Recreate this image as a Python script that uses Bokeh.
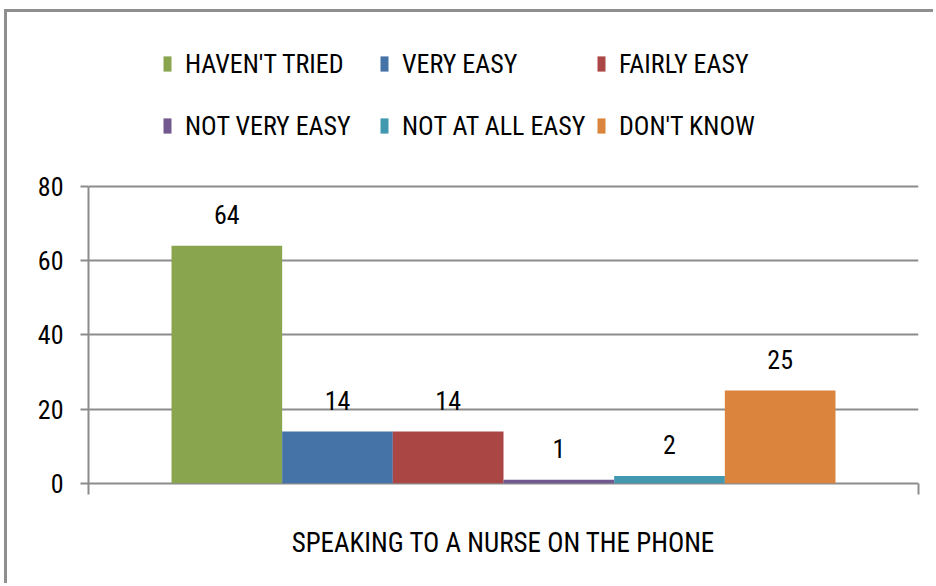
from bokeh.plotting import figure
from bokeh.models import (ColumnDataSource, FactorRange, Range1d, Legend, LegendItem,
                          FixedTicker, LinearAxis)
from bokeh.transform import dodge
from bokeh.core.properties import value
from bokeh.embed import file_html
from bokeh.resources import INLINE

category = ["SPEAKING TO A NURSE ON THE PHONE"]
series = ["HAVEN'T TRIED", "VERY EASY", "FAIRLY EASY",
          "NOT VERY EASY", "NOT AT ALL EASY", "DON'T KNOW"]
values = [64, 14, 14, 1, 2, 25]
colors = ["#89A54E", "#4572A7", "#AA4643", "#71588F", "#4198AF", "#DB843D"]
y_ticks = [0, 20, 40, 60, 80]

FONT = "Roboto Condensed, DejaVu Sans Condensed, Liberation Sans"
GRID = "#8c8c8c"
n = len(series)
bar_w = 1.0 / (n + 1.5)

# frame extends upward over the legend area and slightly below the baseline
p = figure(x_range=FactorRange(factors=category, range_padding=0),
           y_range=Range1d(-3, 126.83), width=929, height=574,
           output_backend="svg", toolbar_location=None,
           min_border_left=81, min_border_right=18,
           min_border_top=0, min_border_bottom=92)
p.outline_line_color = None
p.background_fill_color = "white"
p.border_fill_color = "white"

items = []
for i in range(n):
    src = ColumnDataSource(dict(x=category, top=[values[i]], lbl=[str(values[i])]))
    xd = dodge("x", (i - (n - 1) / 2) * bar_w, range=p.x_range)
    r = p.vbar(x=xd, top="top", bottom=0, width=bar_w, source=src,
               fill_color=colors[i], line_color=None)
    p.text(x=xd, y="top", text="lbl", source=src, text_align="center",
           text_baseline="middle", y_offset=-31,
           text_font=value(FONT), text_font_size="26px", text_color="black")
    items.append(LegendItem(label=series[i], renderers=[r]))

legend = Legend(items=items, location=(74, 342), ncols=3, orientation="horizontal",
                glyph_width=10, glyph_height=19, label_standoff=13,
                label_width=185, label_height=53, spacing=9, padding=0, margin=0,
                border_line_color=None, background_fill_alpha=0,
                label_text_font=FONT, label_text_font_size="26px",
                label_text_color="black")
p.add_layout(legend, "center")

# axes
p.yaxis.ticker = FixedTicker(ticks=y_ticks)
p.yaxis.bounds = (-3, y_ticks[-1])
p.yaxis.axis_line_color = GRID
p.yaxis.axis_line_width = 2
p.yaxis.major_tick_line_color = GRID
p.yaxis.major_tick_line_width = 2
p.yaxis.major_tick_out = 8
p.yaxis.major_tick_in = 0
p.yaxis.minor_tick_line_color = None
p.yaxis.major_label_standoff = 17
p.yaxis.major_label_text_font = FONT
p.yaxis.major_label_text_font_size = "26px"
p.yaxis.major_label_text_color = "black"

# right-hand category boundary tick below the baseline
right_edge = LinearAxis(bounds=(-3, 0), ticker=FixedTicker(ticks=[]),
                        axis_line_color=GRID, axis_line_width=2,
                        major_tick_line_color=None, minor_tick_line_color=None,
                        major_label_text_font_size="0px")
p.add_layout(right_edge, "right")

p.xaxis.axis_line_color = None
p.xaxis.major_tick_line_color = None
p.xaxis.minor_tick_line_color = None
p.xaxis.major_label_standoff = 26
p.xaxis.major_label_text_font = FONT
p.xaxis.major_label_text_font_size = "27px"
p.xaxis.major_label_text_color = "black"

p.xgrid.grid_line_color = None
p.ygrid.ticker = FixedTicker(ticks=y_ticks)
p.ygrid.grid_line_color = GRID
p.ygrid.grid_line_width = 2

p.styles = {"margin-top": "12px", "margin-left": "7px",
            "box-shadow": "-3px -3px 0px 0px #8f8f8f"}

open("out.html", "w").write(file_html(p, INLINE))
